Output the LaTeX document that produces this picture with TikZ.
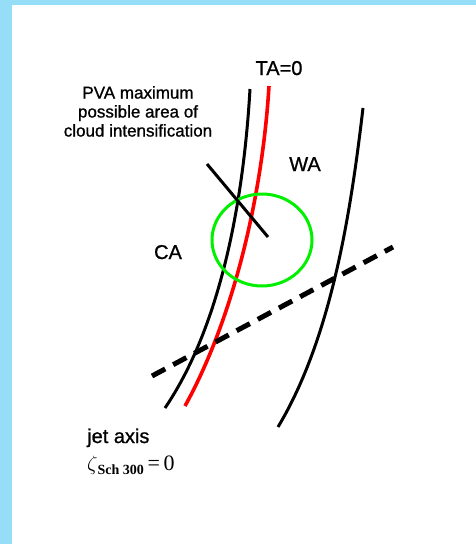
\documentclass[tikz,border=0pt]{standalone}
\usepackage[no-math]{fontspec}
\setmainfont{Liberation Sans}
\newfontfamily\labelfont[FakeBold=0.9]{Liberation Sans}
\newfontfamily\formulafont{Liberation Serif}
\usepackage{amsmath}
\usepackage{xcolor}
\definecolor{frameblue}{RGB}{150,222,248}
\definecolor{circlegreen}{RGB}{0,240,0}
\usetikzlibrary{positioning}

\begin{document}
\begin{tikzpicture}[x=1pt, y=-1pt,
  every node/.style={font=\labelfont\fontsize{20}{24}\selectfont, inner sep=0pt},
  isoline/.style={line width=3pt},
  jetline/.style={line width=5pt, dash pattern=on 15pt off 9pt}]
  % Frame
  \fill[frameblue] (0,0) rectangle (476,544);
  \fill[white] (12,5) rectangle (476,544);
  \useasboundingbox (0,0) rectangle (476,544);

  % Isolines
  \coordinate (ltop) at (250,89);
  \coordinate (lbot) at (165,408);
  \coordinate (rtop) at (363,108);
  \coordinate (rbot) at (278,427);
  \coordinate (tatop) at (269,86);
  \coordinate (tabot) at (185,406);
  \draw[isoline] (ltop) .. controls (243,210) and (218,330) .. (lbot);
  \draw[isoline] (rtop) .. controls (351,210) and (332,337) .. (rbot);
  \draw[isoline, red, line width=3.6pt] (tatop) .. controls (262,200) and (232,321) .. (tabot);

  % PVA maximum
  \coordinate (pvac) at (262,240);
  \coordinate (pvatail) at (207,164);
  \coordinate (pvahead) at (268,237);
  \draw[circlegreen, line width=3pt] (pvac) ellipse [x radius=50, y radius=46];
  \draw[isoline] (pvatail) -- (pvahead);

  % Jet axis
  \coordinate (jetw) at (152,376);
  \coordinate (jete) at (393,247);
  \draw[jetline] (jetw) -- (jete);

  % Labels
  \node[anchor=base] (ta) at (279,75) {TA=0};
  \node[anchor=base] (wa) at (305,171) {WA};
  \node[anchor=base] (ca) at (168,259) {CA};
  \node[anchor=north, align=center, font=\labelfont\fontsize{17}{19}\selectfont] (pva) at (138,86)
    {PVA maximum\\possible area of\\cloud intensification};
  \node[anchor=base west] (jet) at (87,443) {jet axis};
  \node[anchor=base west, font=\formulafont\fontsize{22}{24}\selectfont] (zeta) at (87,470)
    {$\zeta$\raisebox{-4pt}{\fontsize{14}{14}\selectfont\bfseries Sch 300}\,=\,0};
\end{tikzpicture}
\end{document}
